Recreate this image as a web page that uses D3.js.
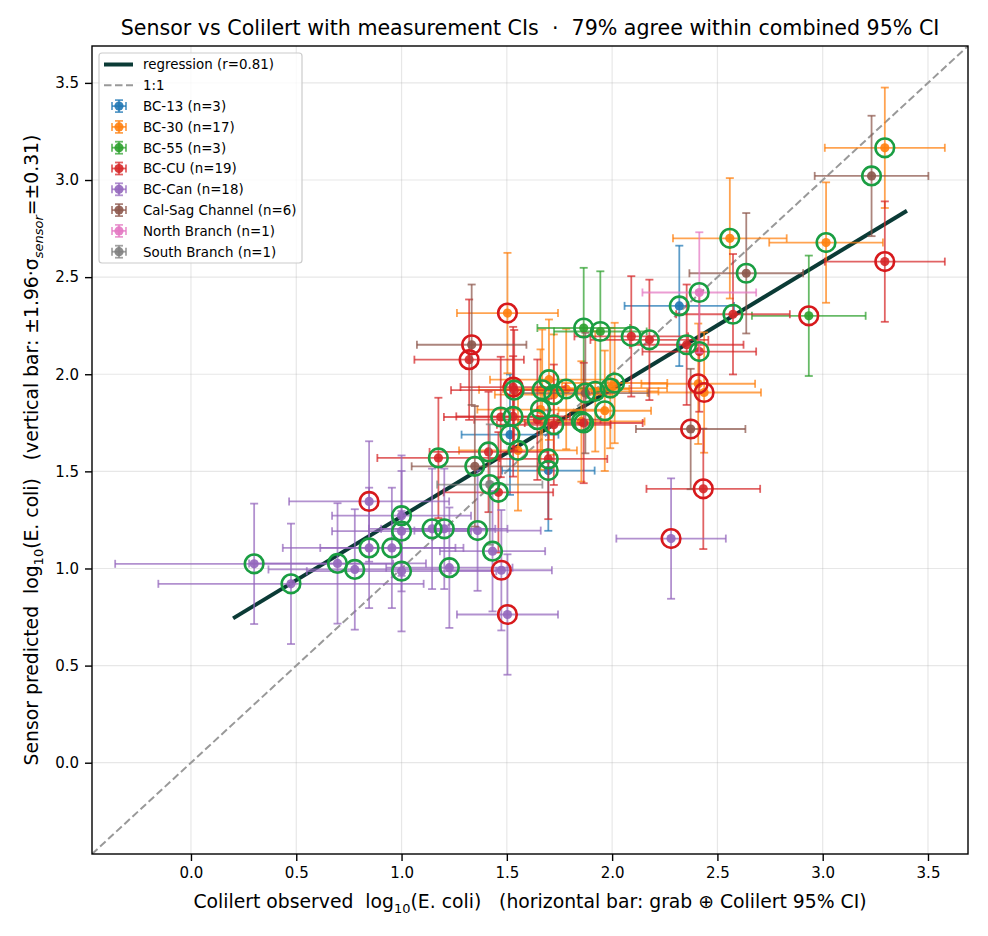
<!DOCTYPE html>
<html><head><meta charset="utf-8">
<script src="https://cdn.jsdelivr.net/npm/d3@7"></script>
<style>body{margin:0;background:#fff} text{font-family:"DejaVu Sans",sans-serif;fill:#000}</style>
</head><body><svg id="c" width="988" height="936"></svg>
<script>
// ---------- data ----------
const groups = ["BC-13","BC-30","BC-55","BC-CU","BC-Can","Cal-Sag Channel","North Branch","South Branch"];
const groupCounts = [3,17,3,19,18,6,1,1];
const groupColors = ["#1f77b4","#ff7f0e","#2ca02c","#d62728","#9467bd","#8c564b","#e377c2","#7f7f7f"];
const sensorErr = 0.31;
const rValue = 0.81;
const agreePct = 79;
const ptGroup = [0,0,0,
  1,1,1,1,1,1,1,1,1,1,1,1,1,1,1,1,1,
  2,2,2,
  3,3,3,3,3,3,3,3,3,3,3,3,3,3,3,3,3,3,3,
  4,4,4,4,4,4,4,4,4,4,4,4,4,4,4,4,4,4,
  5,5,5,5,5,5,
  6,
  7];
const ptX = [1.515,1.697,2.319,
  1.503,1.700,1.668,1.723,1.782,1.920,1.991,2.012,1.965,1.660,1.854,1.553,2.409,2.437,2.559,3.016,3.295,
  1.865,1.944,2.934,
  1.321,1.175,1.530,1.535,1.471,1.530,1.723,1.413,1.645,1.697,1.460,1.865,2.091,2.177,2.354,2.414,2.433,3.295,2.574,
  0.300,0.475,0.696,0.778,0.846,0.846,0.954,1.000,1.000,1.000,1.145,1.203,1.227,1.361,1.432,1.474,1.503,2.280,
  1.333,1.348,1.873,2.373,2.637,3.232,
  2.414,
  1.419];
const ptY = [1.689,1.504,2.352,
  2.315,1.972,1.920,1.895,1.924,1.912,1.929,1.955,1.812,1.818,1.757,1.608,1.951,1.906,2.700,2.678,3.166,
  2.238,2.220,2.301,
  2.075,1.569,1.934,1.918,1.780,1.783,1.740,1.600,1.766,1.564,1.392,1.749,2.195,2.177,2.152,2.117,1.410,2.580,2.309,
  1.024,0.921,1.026,0.995,1.345,1.106,1.106,1.272,1.192,0.986,1.204,1.204,1.004,1.195,1.089,0.991,0.763,1.154,
  2.152,1.526,1.903,1.718,2.520,3.021,
  2.421,
  1.432];
const ptXerr = [0.23,0.22,0.26,
  0.24,0.28,0.30,0.28,0.30,0.30,0.27,0.25,0.22,0.30,0.30,0.28,0.27,0.27,0.27,0.27,0.285,
  0.22,0.22,0.27,
  0.26,0.29,0.25,0.30,0.27,0.27,0.27,0.28,0.30,0.28,0.26,0.28,0.27,0.28,0.27,0.27,0.27,0.285,0.27,
  0.66,0.63,0.42,0.41,0.38,0.41,0.34,0.33,0.33,0.45,0.30,0.30,0.30,0.30,0.25,0.24,0.24,0.26,
  0.26,0.30,0.30,0.26,0.27,0.27,
  0.27,
  0.25];
const ptAgree = [1,1,1,
  0,1,1,1,1,1,1,1,1,1,1,1,0,0,1,1,1,
  1,1,0,
  0,1,0,1,1,1,1,1,1,1,1,1,1,1,1,1,0,0,1,
  1,1,1,1,0,1,1,1,1,1,1,1,1,1,1,0,0,0,
  0,1,1,0,1,1,
  1,
  1];
const regX = [0.2, 3.4];
const regY = [0.743, 2.842];
const axisTicks = [0,0.5,1.0,1.5,2.0,2.5,3.0,3.5];

// ---------- chart ----------
const svg = d3.select("#c");
const m = {l:92, r:968, t:46, b:854};
const x = d3.scaleLinear().domain([-0.47,3.69]).range([m.l,m.r]);
const y = d3.scaleLinear().domain([-0.47,3.69]).range([m.b,m.t]);

svg.append("defs").append("clipPath").attr("id","clip")
  .append("rect").attr("x",m.l).attr("y",m.t).attr("width",m.r-m.l).attr("height",m.b-m.t);

// grid
const grid = svg.append("g");
axisTicks.forEach(t=>{
  grid.append("line").attr("x1",x(t)).attr("x2",x(t)).attr("y1",m.t).attr("y2",m.b)
    .attr("stroke","#b0b0b0").attr("stroke-opacity",0.3).attr("stroke-width",1.2);
  grid.append("line").attr("y1",y(t)).attr("y2",y(t)).attr("x1",m.l).attr("x2",m.r)
    .attr("stroke","#b0b0b0").attr("stroke-opacity",0.3).attr("stroke-width",1.2);
});

const plot = svg.append("g").attr("clip-path","url(#clip)");

// 1:1 line
plot.append("line").attr("x1",x(-0.47)).attr("y1",y(-0.47)).attr("x2",x(3.69)).attr("y2",y(3.69))
  .attr("stroke","#999").attr("stroke-width",2).attr("stroke-dasharray","7.5,3.5");

// regression line
const line = d3.line().x(d=>x(d[0])).y(d=>y(d[1]));
plot.append("path").datum(regX.map((v,i)=>[v,regY[i]])).attr("d",line)
  .attr("fill","none").attr("stroke","#0b3b36").attr("stroke-width",4);

const pts = ptX.map((v,i)=>({x:v,y:ptY[i],xe:ptXerr[i],g:ptGroup[i],a:ptAgree[i]}));
const cap = 4;
groups.forEach((gname,gi)=>{
  const gp = pts.filter(p=>p.g===gi);
  const col = groupColors[gi];
  const eb = plot.append("g").attr("stroke",col).attr("stroke-opacity",0.72).attr("stroke-width",1.8).attr("fill","none");
  gp.forEach(p=>{
    const x0=x(p.x-p.xe), x1=x(p.x+p.xe), yc=y(p.y);
    const y0=y(p.y-sensorErr), y1=y(p.y+sensorErr), xc=x(p.x);
    eb.append("line").attr("x1",x0).attr("x2",x1).attr("y1",yc).attr("y2",yc);
    eb.append("line").attr("x1",x0).attr("x2",x0).attr("y1",yc-cap).attr("y2",yc+cap);
    eb.append("line").attr("x1",x1).attr("x2",x1).attr("y1",yc-cap).attr("y2",yc+cap);
    eb.append("line").attr("x1",xc).attr("x2",xc).attr("y1",y0).attr("y2",y1);
    eb.append("line").attr("y1",y0).attr("y2",y0).attr("x1",xc-cap).attr("x2",xc+cap);
    eb.append("line").attr("y1",y1).attr("y2",y1).attr("x1",xc-cap).attr("x2",xc+cap);
  });
  plot.append("g").selectAll("circle").data(gp).join("circle")
    .attr("cx",p=>x(p.x)).attr("cy",p=>y(p.y)).attr("r",4.6)
    .attr("fill",col).attr("fill-opacity",0.9);
});
// agreement rings
plot.append("g").selectAll("circle").data(pts).join("circle")
  .attr("cx",p=>x(p.x)).attr("cy",p=>y(p.y)).attr("r",9.3)
  .attr("fill","none").attr("stroke",p=>p.a?"#1a9e42":"#d7191c").attr("stroke-width",2.6);

// axes
const fmt = d3.format(".1f");
const xa = svg.append("g").attr("transform",`translate(0,${m.b})`)
  .call(d3.axisBottom(x).tickValues(axisTicks).tickFormat(fmt).tickSize(7).tickPadding(6).tickSizeOuter(0));
const ya = svg.append("g").attr("transform",`translate(${m.l},0)`)
  .call(d3.axisLeft(y).tickValues(axisTicks).tickFormat(fmt).tickSize(7).tickPadding(6).tickSizeOuter(0));
[xa,ya].forEach(a=>{
  a.select(".domain").remove();
  a.selectAll(".tick line").attr("stroke","#000").attr("stroke-width",1.4);
  a.selectAll(".tick text").attr("font-size",15).attr("font-family","DejaVu Sans").attr("fill","#000");
});
svg.append("rect").attr("x",m.l).attr("y",m.t).attr("width",m.r-m.l).attr("height",m.b-m.t)
  .attr("fill","none").attr("stroke","#000").attr("stroke-width",1.4);

// title
svg.append("text").attr("x",(m.l+m.r)/2).attr("y",35).attr("text-anchor","middle")
  .attr("font-size",20.6).style("white-space","pre")
  .text(`Sensor vs Colilert with measurement CIs  ·  ${agreePct}% agree within combined 95% CI`);

// x label
const xl = svg.append("text").attr("x",(m.l+m.r)/2).attr("y",908).attr("text-anchor","middle")
  .attr("font-size",18.8).style("white-space","pre");
xl.append("tspan").text("Colilert observed  log");
xl.append("tspan").attr("font-size",13).attr("dy",4.5).text("10");
xl.append("tspan").attr("dy",-4.5).text("(E. coli)   (horizontal bar: grab ⊕ Colilert 95% CI)");

// y label
const yl = svg.append("text").attr("transform",`translate(38,${(m.t+m.b)/2}) rotate(-90)`)
  .attr("text-anchor","middle").attr("font-size",18.8).style("white-space","pre");
yl.append("tspan").text("Sensor predicted  log");
yl.append("tspan").attr("font-size",13).attr("dy",4.5).text("10");
yl.append("tspan").attr("dy",-4.5).text("(E. coli)   (vertical bar: ±1.96·σ");
yl.append("tspan").attr("font-size",13).attr("dy",4.5).attr("font-style","italic").text("sensor");
yl.append("tspan").attr("dy",-4.5).text(`=±${sensorErr.toFixed(2)})`);

// legend
const lg = svg.append("g");
lg.append("rect").attr("x",99).attr("y",53).attr("width",203).attr("height",210).attr("rx",3)
  .attr("fill","#fff").attr("fill-opacity",0.8).attr("stroke","#ccc").attr("stroke-width",1.2);
const rowY = i => 64.5 + i*20.8;
const lfs = 13.4;
lg.append("line").attr("x1",104).attr("x2",133).attr("y1",rowY(0)).attr("y2",rowY(0))
  .attr("stroke","#0b3b36").attr("stroke-width",4);
lg.append("text").attr("x",143).attr("y",rowY(0)+4.8).attr("font-size",lfs).text(`regression (r=${rValue.toFixed(2)})`);
lg.append("line").attr("x1",104).attr("x2",133).attr("y1",rowY(1)).attr("y2",rowY(1))
  .attr("stroke","#999").attr("stroke-width",2).attr("stroke-dasharray","7.5,3.5");
lg.append("text").attr("x",143).attr("y",rowY(1)+4.8).attr("font-size",lfs).text("1:1");
groups.forEach((gname,gi)=>{
  const cy = rowY(gi+2), cx = 119, col = groupColors[gi];
  const g = lg.append("g").attr("stroke",col).attr("stroke-opacity",0.72).attr("stroke-width",1.8);
  g.append("line").attr("x1",cx-7).attr("x2",cx+7).attr("y1",cy).attr("y2",cy);
  g.append("line").attr("x1",cx-7).attr("x2",cx-7).attr("y1",cy-4).attr("y2",cy+4);
  g.append("line").attr("x1",cx+7).attr("x2",cx+7).attr("y1",cy-4).attr("y2",cy+4);
  g.append("line").attr("x1",cx).attr("x2",cx).attr("y1",cy-6).attr("y2",cy+6);
  g.append("line").attr("x1",cx-4).attr("x2",cx+4).attr("y1",cy-6).attr("y2",cy-6);
  g.append("line").attr("x1",cx-4).attr("x2",cx+4).attr("y1",cy+6).attr("y2",cy+6);
  lg.append("circle").attr("cx",cx).attr("cy",cy).attr("r",4.6).attr("fill",col).attr("fill-opacity",0.9);
  lg.append("text").attr("x",143).attr("y",cy+4.8).attr("font-size",lfs).text(`${gname} (n=${groupCounts[gi]})`);
});
</script></body></html>
